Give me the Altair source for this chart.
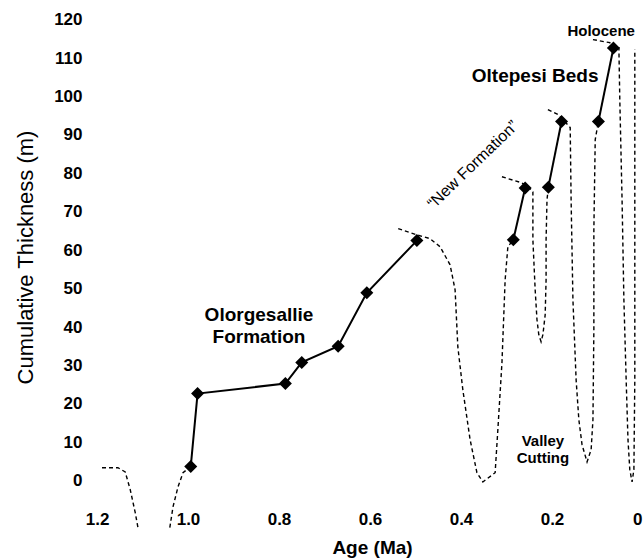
import altair as alt
import pandas as pd

# ---- axis ticks ----
x_ticks = [0.0, 0.2, 0.4, 0.6, 0.8, 1.0, 1.2]
y_ticks = [0, 10, 20, 30, 40, 50, 60, 70, 80, 90, 100, 110, 120]

# ---- measured sections (diamonds, solid lines) ----
pt_age = [0.994, 0.979, 0.786, 0.750, 0.670, 0.607, 0.497,
          0.285, 0.259,
          0.208, 0.179,
          0.098, 0.065]
pt_thk = [3.7, 22.7, 25.3, 30.8, 35.0, 48.9, 62.5,
          62.7, 76.2,
          76.4, 93.5,
          93.5, 112.6]
pt_seg = ["olorgesallie"] * 7 + ["new1"] * 2 + ["new2"] * 2 + ["oltepesi"] * 2

# ---- dashed erosion / valley-cutting curves ----
dash_a_age = [1.189, 1.154, 1.138, 1.127, 1.116, 1.110]
dash_a_thk = [3.4, 3.4, 2.3, -2.3, -8.3, -12.2]

dash_b_age = [1.040, 1.033, 1.022, 1.011, 0.994]
dash_b_thk = [-12.2, -6.8, -1.6, 2.1, 3.7]

dash_c_age = [0.538, 0.497, 0.468, 0.446, 0.424, 0.413, 0.407, 0.396, 0.380,
              0.365, 0.352, 0.325, 0.319, 0.310, 0.303, 0.297, 0.285]
dash_c_thk = [65.6, 64.0, 63.0, 60.9, 56.2, 49.7, 34.9, 23.7, 10.7,
              2.1, -0.3, 2.1, 13.3, 30.7, 52.3, 60.9, 62.7]

dash_d_age = [0.310, 0.268, 0.255, 0.242, 0.242, 0.237, 0.233, 0.229, 0.224,
              0.220, 0.215, 0.213, 0.213, 0.211, 0.208]
dash_d_thk = [79.1, 77.6, 76.8, 75.2, 62.7, 49.7, 41.9, 38.0, 36.2,
              38.0, 43.2, 52.3, 62.7, 73.1, 76.4]

dash_e_age = [0.209, 0.187, 0.176, 0.160, 0.158, 0.154, 0.147, 0.141, 0.134,
              0.123, 0.114, 0.110, 0.108, 0.108, 0.105, 0.098]
dash_e_thk = [96.6, 95.3, 94.0, 91.9, 73.1, 47.1, 26.3, 15.9, 9.4,
              4.9, 8.1, 15.9, 39.3, 65.3, 88.8, 93.5]

dash_f_age = [0.110, 0.073, 0.065, 0.053, 0.051, 0.046, 0.042, 0.037, 0.033,
              0.029, 0.024, 0.020, 0.018, 0.018, 0.018, 0.018, 0.018]
dash_f_thk = [114.8, 114.0, 112.6, 112.7, 99.2, 73.1, 47.1, 26.3, 10.7,
              2.9, -0.3, 2.9, 26.3, 47.1, 73.1, 99.2, 112.2]

# ---- annotations (text, age, thickness) ----
lbl_big_text = ["Olorgesallie", "Formation", "Oltepesi Beds"]
lbl_big_age = [0.844, 0.844, 0.237]
lbl_big_thk = [43.2, 37.5, 105.2]

lbl_small_text = ["Holocene", "Valley", "Cutting"]
lbl_small_age = [0.092, 0.220, 0.220]
lbl_small_thk = [117.1, 10.3, 5.8]

lbl_rot_text = ["\u201cNew Formation\u201d"]
lbl_rot_age = [0.374]
lbl_rot_thk = [82.2]

FONT = "Liberation Sans"

# ---- tables ----
pts = pd.DataFrame({"age": pt_age, "thk": pt_thk, "seg": pt_seg,
                    "i": list(range(len(pt_age)))})

dash_frames = []
for name, a, t in [("a", dash_a_age, dash_a_thk), ("b", dash_b_age, dash_b_thk),
                   ("c", dash_c_age, dash_c_thk), ("d", dash_d_age, dash_d_thk),
                   ("e", dash_e_age, dash_e_thk), ("f", dash_f_age, dash_f_thk)]:
    dash_frames.append(pd.DataFrame({"age": a, "thk": t, "seg": name,
                                     "i": list(range(len(a)))}))
dashes = pd.concat(dash_frames, ignore_index=True)

big = pd.DataFrame({"age": lbl_big_age, "thk": lbl_big_thk, "txt": lbl_big_text})
small = pd.DataFrame({"age": lbl_small_age, "thk": lbl_small_thk, "txt": lbl_small_text})
rot = pd.DataFrame({"age": lbl_rot_age, "thk": lbl_rot_thk, "txt": lbl_rot_text})

x_scale = alt.Scale(domain=[1.2264, -0.0022], nice=False, zero=False)
y_scale = alt.Scale(domain=[-5, 122.5], nice=False, zero=False)

x_axis = alt.Axis(values=x_ticks, labelExpr="datum.value == 0 ? '0' : format(datum.value, '.1f')",
                  domain=False, ticks=False, tickSize=0, grid=False, labelFlush=False,
                  labelAlign={"condition": {"test": "datum.value == 0", "value": "right"},
                              "value": "center"},
                  labelOffset={"condition": {"test": "datum.value == 0", "value": -1},
                               "value": 0},
                  labelFont=FONT, labelFontSize=17, labelFontWeight="bold", labelColor="black",
                  labelPadding=11, title="Age (Ma)", titleFont=FONT, titleFontSize=19,
                  titleFontWeight="bold", titleColor="black", titleX=287, titleY=53,
                  titleAlign="center", titleBaseline="alphabetic")
y_axis = alt.Axis(values=y_ticks, domain=False, ticks=False, tickSize=0, grid=False,
                  labelFont=FONT, labelFontSize=17, labelFontWeight="bold", labelColor="black",
                  labelPadding=3, labelFlush=False, title="Cumulative Thickness (m)",
                  titleFont=FONT, titleFontSize=22, titleFontWeight="normal", titleColor="black",
                  titleX=-48, titleY=247, titleAngle=270, titleAlign="center",
                  titleBaseline="bottom")

X = alt.X("age:Q", scale=x_scale, axis=x_axis)
Y = alt.Y("thk:Q", scale=y_scale, axis=y_axis)

dashed = alt.Chart(dashes).mark_line(color="black", strokeWidth=1.4, strokeDash=[4, 3]).encode(
    x=X, y=Y, detail="seg:N", order="i:Q")
solid = alt.Chart(pts).mark_line(color="black", strokeWidth=2).encode(
    x=X, y=Y, detail="seg:N", order="i:Q")
diamonds = alt.Chart(pts).mark_point(shape="diamond", filled=True, size=170, color="black",
                                     opacity=1).encode(x=X, y=Y)
t_big = alt.Chart(big).mark_text(font=FONT, fontSize=19, fontWeight="bold", color="black",
                                 align="center", baseline="middle").encode(x=X, y=Y, text="txt:N")
t_small = alt.Chart(small).mark_text(font=FONT, fontSize=15, fontWeight="bold", color="black",
                                     align="center", baseline="middle").encode(x=X, y=Y, text="txt:N")
t_rot = alt.Chart(rot).mark_text(font=FONT, fontSize=16, fontWeight="normal", color="black",
                                 align="center", baseline="middle", angle=316).encode(
    x=X, y=Y, text="txt:N")

chart = alt.layer(dashed, solid, diamonds, t_big, t_small, t_rot).properties(
    width=559, height=490,
    autosize=alt.AutoSizeParams(type="none"),
    padding={"left": 85, "top": 10, "right": 0, "bottom": 58},
    background="white",
).configure_view(stroke=None)

chart.save("out.html", embed_options={"renderer": "svg", "actions": False})
